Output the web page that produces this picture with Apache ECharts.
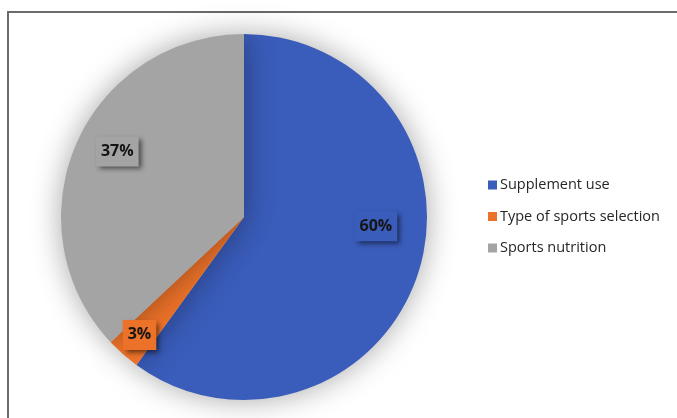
<!DOCTYPE html>
<html>
<head>
<meta charset="utf-8">
<script src="https://cdn.jsdelivr.net/npm/echarts@6/dist/echarts.min.js"></script>
<style>
  html, body { margin: 0; padding: 0; background: #fff; }
  #chart { width: 677px; height: 418px; }
</style>
</head>
<body>
<div id="chart"></div>
<script>
// Share of topics (percent)
const categories = ['Supplement use', 'Type of sports selection', 'Sports nutrition'];
const shares = [60, 3, 37];
const colors = ['#3a5cba', '#ec7229', '#a4a4a4'];
// nudges that move each data label off the default mid-radius spot
const labelOffsets = [[42, -20], [-42, 47], [-40, -28]];

const chart = echarts.init(document.getElementById('chart'), null, { renderer: 'canvas' });

chart.setOption({
  animation: false,
  color: colors,
  graphic: [{
    type: 'rect',
    shape: { x: 8, y: 12, width: 700, height: 430 },
    style: { fill: 'none', stroke: '#6b6b6b', lineWidth: 2 },
    silent: true
  }],
  legend: {
    orient: 'vertical',
    left: 483,
    top: 171,
    itemWidth: 9,
    itemHeight: 9,
    itemGap: 13.5,
    icon: 'rect',
    textStyle: {
      fontFamily: 'Open Sans', fontSize: 14.5, color: '#262626',
      lineHeight: 18, padding: [0, 0, 0, -2]
    },
    data: categories
  },
  series: [{
    type: 'pie',
    center: [244, 217],
    radius: 183,
    startAngle: 90,
    clockwise: true,
    itemStyle: {
      shadowBlur: 30,
      shadowColor: 'rgba(0,0,0,0.35)'
    },
    label: {
      position: 'inside',
      formatter: '{c}%',
      fontFamily: 'Open Sans',
      fontWeight: 'bold',
      fontSize: 16,
      color: '#151515',
      backgroundColor: 'inherit',
      padding: [7, 5, 7, 5],
      shadowBlur: 5,
      shadowOffsetX: 3,
      shadowOffsetY: 3,
      shadowColor: 'rgba(0,0,0,0.55)'
    },
    labelLine: { show: false },
    emphasis: { disabled: true },
    data: categories.map((name, i) => ({
      name: name,
      value: shares[i],
      label: { offset: labelOffsets[i] }
    }))
  }]
});
</script>
</body>
</html>
